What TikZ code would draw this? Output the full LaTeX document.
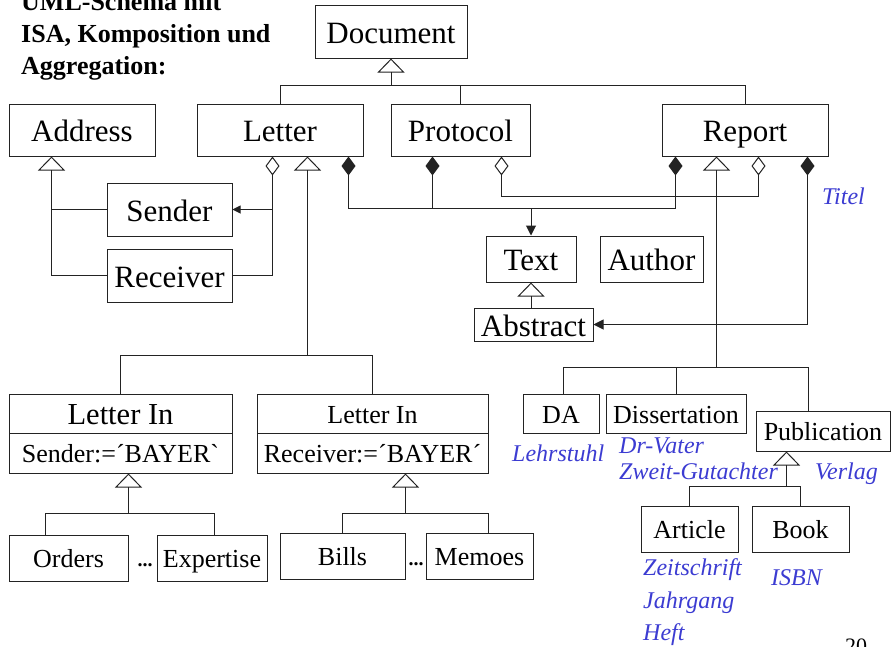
\documentclass[tikz,border=0pt]{standalone}
\usepackage{fontspec}
\setmainfont{Liberation Serif}
\usetikzlibrary{arrows.meta,calc}
\definecolor{note}{RGB}{60,60,210}
\definecolor{ink}{RGB}{35,35,35}

\tikzset{
  comptip/.tip={Diamond[length=19pt,width=14pt]},
  aggtip/.tip={Diamond[open,length=19pt,width=14pt]},
  isatip/.tip={Triangle[open,length=14pt,width=27pt]},
  navtip/.tip={Triangle[length=10pt,width=10pt]},
  smalltip/.tip={Triangle[length=8pt,width=8pt]},
}

\begin{document}
\begin{tikzpicture}[x=1pt,y=-1pt,
  cls/.style={draw=ink, line width=1pt, inner sep=0pt, text height=0.75em, text depth=0pt},
  big/.style={font=\fontsize{31}{31}\selectfont, text height=23pt},
  mid/.style={font=\fontsize{26}{26}\selectfont, text height=19.5pt},
  lnk/.style={draw=ink, line width=1pt},
  inh/.style={lnk, -isatip},
  comp/.style={lnk, comptip-},
  agg/.style={lnk, aggtip-},
  note/.style={text=note, font=\fontsize{24}{24}\selectfont\itshape, inner sep=0pt},
  heading/.style={font=\fontsize{26}{26}\selectfont\bfseries, inner sep=0pt},
]
\useasboundingbox (0,0) rectangle (892,646);
\fill[white] (0,0) rectangle (892,646);

% heading
\node[heading,anchor=base west] (t1) at (21,10) {UML-Schema mit};
\node[heading,anchor=base west] (t2) at (21,42) {ISA, Komposition und};
\node[heading,anchor=base west] (t3) at (21,74) {Aggregation:};

% classes
\node[cls,big,minimum width=152pt,minimum height=53pt] (doc) at (391,31.5) {Document};
\node[cls,big,minimum width=146pt,minimum height=52pt] (address) at (82,130) {Address};
\node[cls,big,minimum width=166pt,minimum height=52pt] (letter) at (280,130) {Letter};
\node[cls,big,minimum width=139pt,minimum height=52pt] (protocol) at (460.5,130) {Protocol};
\node[cls,big,minimum width=166pt,minimum height=52pt] (report) at (745,130) {Report};
\node[cls,big,minimum width=125pt,minimum height=53pt] (sender) at (169.5,209.5) {Sender};
\node[cls,big,minimum width=125pt,minimum height=53pt] (receiver) at (169.5,275.5) {Receiver};
\node[cls,big,minimum width=90pt,minimum height=46pt] (text) at (531,259) {Text};
\node[cls,big,minimum width=103pt,minimum height=46pt] (author) at (651.5,259) {Author};
\node[cls,big,minimum width=119pt,minimum height=33pt] (abstract) at (533.5,324.5) {Abstract};

\node[cls,font=\fontsize{30.5}{30.5}\selectfont,text height=22.5pt,minimum width=223pt,minimum height=39pt] (lia) at (120.5,413.5) {Letter In};
\node[cls,mid,minimum width=223pt,minimum height=40pt] (liaattr) at (120.5,453) {Sender:=´BAYER\textasciigrave};
\node[cls,mid,minimum width=231pt,minimum height=39pt] (lib) at (372.5,413.5) {Letter In};
\node[cls,mid,minimum width=231pt,minimum height=40pt] (libattr) at (372.5,453) {Receiver:=´BAYER´};

\node[cls,mid,minimum width=119pt,minimum height=46pt] (orders) at (68.5,558) {Orders};
\node[cls,mid,minimum width=110pt,minimum height=46pt] (expertise) at (212,558) {Expertise};
\node[cls,mid,minimum width=125pt,minimum height=46pt] (bills) at (342.5,556) {Bills};
\node[cls,mid,minimum width=107pt,minimum height=46pt] (memoes) at (479.5,556) {Memoes};
\node[font=\fontsize{20}{20}\selectfont\bfseries,inner sep=0pt,anchor=base] (dotsa) at (145,566) {...};
\node[font=\fontsize{20}{20}\selectfont\bfseries,inner sep=0pt,anchor=base] (dotsb) at (416,565) {...};

\node[cls,mid,minimum width=76pt,minimum height=39pt] (da) at (561,413.5) {DA};
\node[cls,mid,minimum width=140pt,minimum height=39pt] (diss) at (676,413.5) {Dissertation};
\node[cls,mid,minimum width=134pt,minimum height=40pt] (pub) at (823,431) {Publication};
\node[cls,mid,minimum width=97pt,minimum height=46pt] (article) at (689.5,529) {Article};
\node[cls,mid,minimum width=97pt,minimum height=46pt] (book) at (800.5,529) {Book};

% Document hierarchy
\coordinate (docbar) at ($(doc.south)+(0,27)$);
\draw[inh] (docbar) -- (doc.south);
\draw[lnk] (letter.north) |- (docbar) -| (report.north);
\draw[lnk] (protocol.north) -- (protocol.north |- docbar);

% Sender and Receiver are addresses
\coordinate (addrtip) at ($(address.south west)+(43,0)$);
\draw[inh] (receiver.west) -| (addrtip);
\draw[lnk] (sender.west) -- (sender.west -| addrtip);

% Letter aggregates Sender and Receiver
\coordinate (lagg) at ($(letter.south west)+(76,0)$);
\draw[agg] (lagg) |- (receiver.east);
\draw[lnk,-smalltip] (sender.east -| lagg) -- (sender.east);

% kinds of incoming letters
\coordinate (lisa) at ($(letter.south west)+(111,0)$);
\coordinate (libar) at ($(lisa)+(0,199)$);
\draw[inh] (libar) -- (lisa);
\draw[lnk] (lia.north) |- (libar) -| (lib.north);

% compositions with Text
\coordinate (lcomp) at ($(letter.south west)+(152,0)$);
\coordinate (pcomp) at ($(protocol.south west)+(42,0)$);
\coordinate (rcomp) at ($(report.south west)+(14,0)$);
\coordinate (tbar) at ($(text.north)+(0,-27)$);
\draw[comp] (lcomp) |- (tbar);
\draw[comp] (rcomp) |- (tbar);
\draw[comp] (pcomp) -- (pcomp |- tbar);
\draw[lnk,-navtip] (tbar) -- (text.north);

% aggregation link Protocol -- Report
\coordinate (pagg) at ($(protocol.south west)+(111,0)$);
\coordinate (ragg) at ($(report.south west)+(97,0)$);
\draw[lnk,aggtip-aggtip] (pagg) -- ++(0,40) -| (ragg);

% Report owns its Abstract
\coordinate (rtit) at ($(report.south west)+(146,0)$);
\draw[lnk,comptip-navtip] (rtit) |- (abstract.east);

% Abstract is a Text
\draw[inh] (text.south |- abstract.north) -- (text.south);

% kinds of reports
\coordinate (risa) at ($(report.south west)+(55,0)$);
\coordinate (rbar) at ($(risa)+(0,211)$);
\draw[inh] (rbar) -- (risa);
\coordinate (dax) at ($(da.north west)+(41,0)$);
\coordinate (pubx) at ($(pub.north west)+(53,0)$);
\draw[lnk] (dax) |- (rbar) -| (pubx);
\draw[lnk] (diss.north) -- (diss.north |- rbar);

% letters from BAYER
\coordinate (liatip) at (liaattr.south -| orders.east);
\coordinate (liabar) at ($(liatip)+(0,40)$);
\draw[inh] (liabar) -- (liatip);
\coordinate (ordx) at ($(orders.north west)+(37,0)$);
\coordinate (expx) at ($(expertise.north west)+(58,0)$);
\draw[lnk] (ordx) |- (liabar) -| (expx);

% letters to BAYER
\coordinate (libtip) at (libattr.south -| bills.east);
\coordinate (libbar) at ($(libtip)+(0,40)$);
\draw[inh] (libbar) -- (libtip);
\draw[lnk] (bills.north) |- (libbar) -| (memoes.north -| libattr.east);

% kinds of publications
\coordinate (pubtip) at ($(pub.south west)+(31,0)$);
\coordinate (pubbar) at ($(pubtip)+(0,35)$);
\draw[inh] (pubbar) -- (pubtip);
\draw[lnk] (article.north) |- (pubbar) -| (book.north);

% attributes
\node[note,anchor=base west] (titel) at (822,204) {Titel};
\node[note,anchor=base west] (lehrstuhl) at (512,461) {Lehrstuhl};
\node[note,anchor=base west] (drvater) at (619,453) {Dr-Vater};
\node[note,anchor=base west] (gutachter) at (619,479) {Zweit-Gutachter};
\node[note,anchor=base west] (verlag) at (815,479) {Verlag};
\node[note,anchor=base west] (zeitschrift) at (643,575) {Zeitschrift};
\node[note,anchor=base west] (isbn) at (771,585) {ISBN};
\node[note,anchor=base west] (jahrgang) at (643,608) {Jahrgang};
\node[note,anchor=base west] (heft) at (643,640) {Heft};

% page number
\node[font=\fontsize{22}{22}\selectfont,inner sep=0pt,anchor=base west] (pageno) at (845,653) {20};
\end{tikzpicture}
\end{document}
